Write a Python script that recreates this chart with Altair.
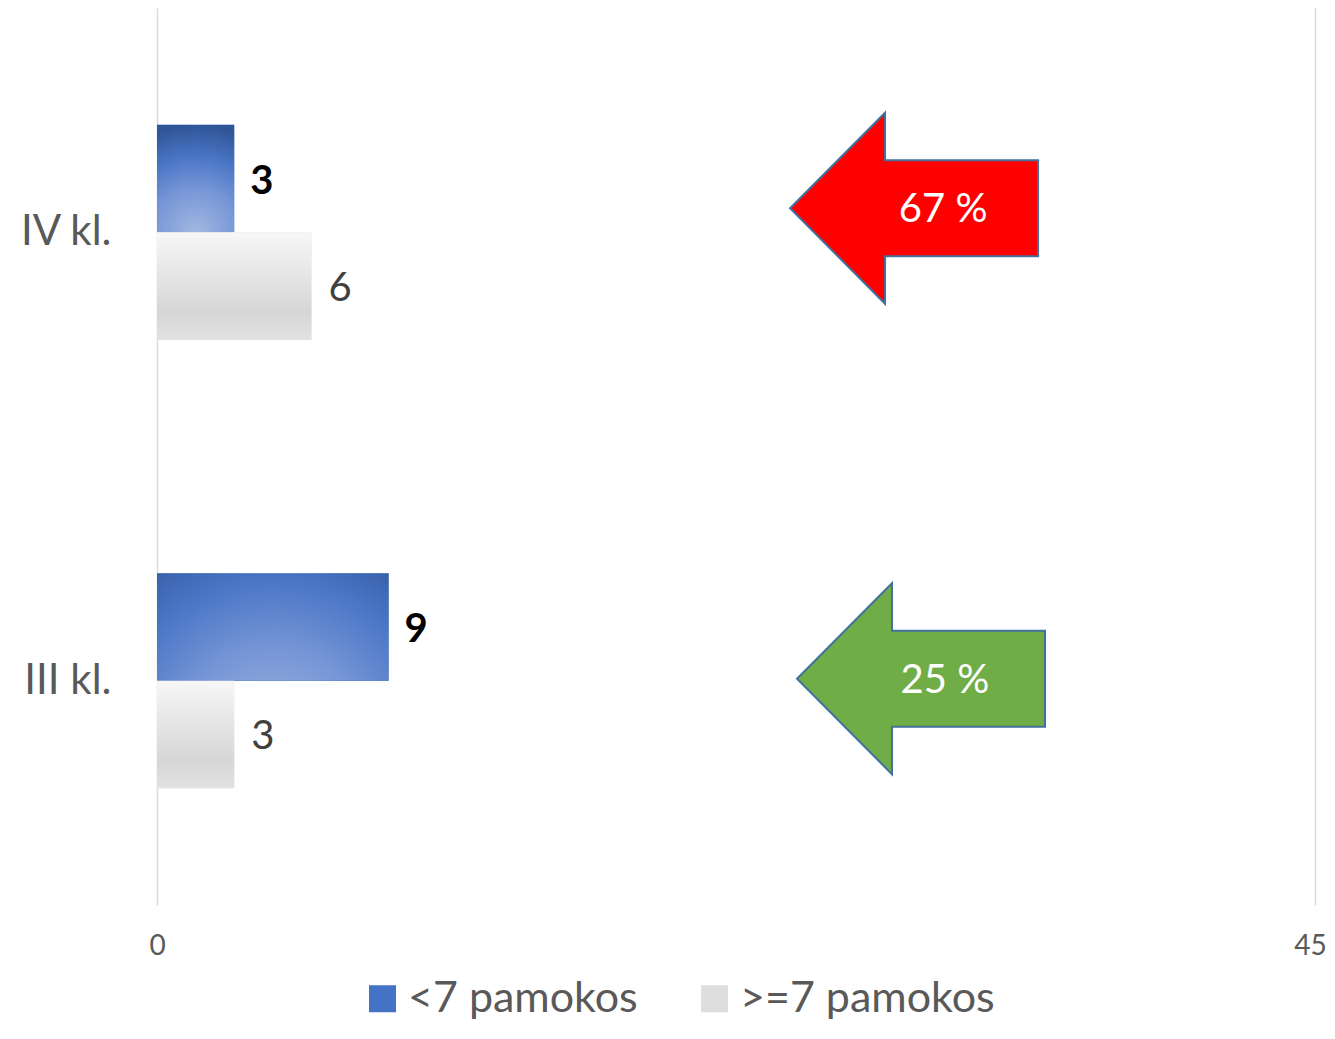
import altair as alt
import pandas as pd

# ---- data ----
classes = ["IV kl.", "III kl."]
series = ["<7 pamokos", ">=7 pamokos"]
less_than_7 = [3, 9]
seven_or_more = [6, 3]
arrow_labels = ["67 %", "25 %"]
arrow_colors = ["#FF0000", "#70AD47"]
arrow_x = [29.42, 29.69]        # arrow centre, in axis units
arrow_text_x = [30.55, 30.62]   # label centre, in axis units
arrow_dy = [-24, -2]            # small vertical offset from class centre (px)
x_ticks = [0, 45]

rows = []
for c, a, b in zip(classes, less_than_7, seven_or_more):
    rows.append({"klase": c, "serija": series[0], "kiekis": a})
    rows.append({"klase": c, "serija": series[1], "kiekis": b})
df = pd.DataFrame(rows)

FONT = "Lato"
GREY_TXT = "#595959"

x_enc = alt.X("kiekis:Q", scale=alt.Scale(domain=[0, 45], nice=False, zero=True),
              axis=alt.Axis(values=x_ticks, title=None, labelFontSize=28, labelColor=GREY_TXT,
                            grid=True, gridColor="#D9D9D9", gridWidth=1.5, ticks=False,
                            domain=False, labelPadding=27, labelFont=FONT, labelFlush=False,
                            labelOffset={"condition": {"test": "datum.value == 45", "value": -5},
                                         "value": 0}))
y_enc = alt.Y("klase:N", sort=classes, scale=alt.Scale(paddingInner=0, paddingOuter=0),
              axis=alt.Axis(title=None, labelFontSize=42, labelColor=GREY_TXT, ticks=False,
                            domain=False, grid=False, labelPadding=46, labelFont=FONT))
# empty slots either side of the pair keep the bars as thin as in the reference
yoff_domain = ["_top", series[0], series[1], "_bottom"]
yoff_enc = alt.YOffset("serija:N",
                       scale=alt.Scale(domain=yoff_domain, paddingInner=0, paddingOuter=0.088))

base = alt.Chart(df)

legend_bars = base.mark_bar().encode(
    x=x_enc, y=y_enc, yOffset=yoff_enc,
    color=alt.Color("serija:N", sort=series,
                    scale=alt.Scale(domain=series, range=["#4472C4", "#DEDEDE"]),
                    legend=alt.Legend(title=None, orient="none", legendX=204, legendY=969,
                                      direction="horizontal", symbolType="square",
                                      symbolSize=729, symbolStrokeWidth=0,
                                      labelFontSize=43, labelColor=GREY_TXT, labelFont=FONT,
                                      labelOffset=4, labelLimit=500, columnPadding=55,
                                      padding=0))
)

blue_grad = {
    "gradient": "radial", "x1": 0.5, "y1": 1, "x2": 0.5, "y2": 1, "r1": 0, "r2": 1.0,
    "stops": [
        {"offset": 0, "color": "#A3B8E2"},
        {"offset": 0.4, "color": "#7796D6"},
        {"offset": 0.7, "color": "#4A76C6"},
        {"offset": 1, "color": "#2F5597"},
    ],
}
grey_grad = {
    "gradient": "linear", "x1": 0, "y1": 0, "x2": 0, "y2": 1,
    "stops": [
        {"offset": 0, "color": "#F7F7F7"},
        {"offset": 0.75, "color": "#D6D6D6"},
        {"offset": 1, "color": "#E2E2E2"},
    ],
}

blue_bars = base.transform_filter(alt.datum.serija == series[0]).mark_bar(fill=blue_grad).encode(
    x=x_enc, y=y_enc, yOffset=yoff_enc)
grey_bars = base.transform_filter(alt.datum.serija == series[1]).mark_bar(fill=grey_grad).encode(
    x=x_enc, y=y_enc, yOffset=yoff_enc)

blue_lbl = base.transform_filter(alt.datum.serija == series[0]).mark_text(
    align="left", baseline="middle", dx=16, dy=3, fontSize=40, fontWeight="bold", color="#000000",
    font=FONT).encode(x=x_enc, y=y_enc, yOffset=yoff_enc, text="kiekis:Q")
grey_lbl = base.transform_filter(alt.datum.serija == series[1]).mark_text(
    align="left", baseline="middle", dx=17, dy=3, fontSize=40, color="#404040",
    font=FONT).encode(x=x_enc, y=y_enc, yOffset=yoff_enc, text="kiekis:Q")

arrow_path = ("M -1 0 L -0.234 -0.77 L -0.234 -0.387 L 1 -0.387 L 1 0.387 "
              "L -0.234 0.387 L -0.234 0.77 Z")

layers = [legend_bars, blue_bars, grey_bars, blue_lbl, grey_lbl]
for cls, lab, col, ax, tx, dy in zip(classes, arrow_labels, arrow_colors, arrow_x, arrow_text_x, arrow_dy):
    adf = pd.DataFrame({"klase": [cls], "ax": [ax], "tx": [tx], "lab": [lab]})
    a = alt.Chart(adf).mark_point(shape=arrow_path, size=61504, filled=True, fill=col,
                                  stroke="#41719C", strokeWidth=2, opacity=1, yOffset=dy).encode(
        x=alt.X("ax:Q"), y=alt.Y("klase:N", sort=classes))
    t = alt.Chart(adf).mark_text(align="center", baseline="middle", fontSize=40, color="#FFFFFF",
                                 font=FONT, yOffset=dy + 2).encode(
        x=alt.X("tx:Q"), y=alt.Y("klase:N", sort=classes), text="lab:N")
    layers += [a, t]

chart = alt.layer(*layers).properties(
    width=1158, height=897,
    autosize=alt.AutoSizeParams(type="none"),
    padding={"left": 149, "top": 0, "right": 12, "bottom": 120},
).configure(font=FONT).configure_view(stroke=None)

chart.save("out.html", embed_options={"renderer": "svg", "actions": False})
